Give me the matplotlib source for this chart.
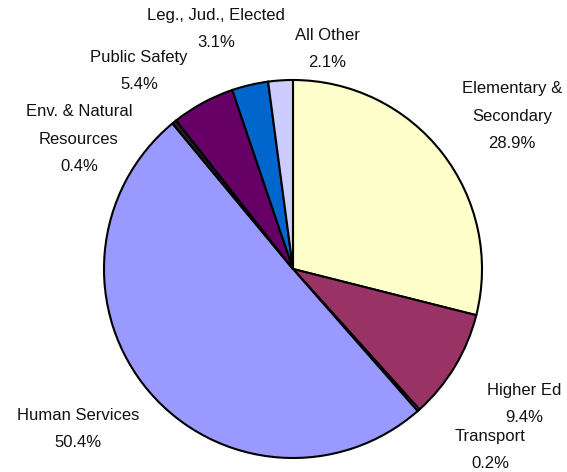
import matplotlib
matplotlib.use("Agg")
import matplotlib.pyplot as plt

categories = ["Elementary &\nSecondary", "Higher Ed", "Transport", "Human Services",
              "Env. & Natural\nResources", "Public Safety", "Leg., Jud., Elected", "All Other"]
values = [28.9, 9.4, 0.2, 50.4, 0.4, 5.4, 3.1, 2.1]
colors = ["#FFFFCC", "#993366", "#FFFFCC", "#9999FF", "#202020", "#660066", "#0066CC", "#CCCCFF"]

# label anchor positions (pixel coords, top-left origin), centre of text block
label_pos = [(512, 116), (524, 404), (490, 450), (78, 429),
             (79, 139), (139, 71), (216, 29), (327, 49)]

W, H = 567, 472
plt.rcParams['font.family'] = ['Liberation Sans', 'DejaVu Sans']
fig = plt.figure(figsize=(W / 100, H / 100), dpi=100)
ax = fig.add_axes([0, 0, 1, 1])

ax.pie(values, colors=colors, startangle=90, counterclock=False,
       center=(293, H - 269), radius=189,
       wedgeprops=dict(edgecolor='black', linewidth=1.5))

ax.set_xlim(0, W)
ax.set_ylim(0, H)
ax.set_aspect('equal')
ax.axis('off')

for cat, v, (x, y) in zip(categories, values, label_pos):
    ax.text(x, H - y, f"{cat}\n{v:.1f}%", ha='center', va='center',
            fontsize=12, linespacing=2.05, color='#111111')

fig.savefig("out.png", dpi=100)
